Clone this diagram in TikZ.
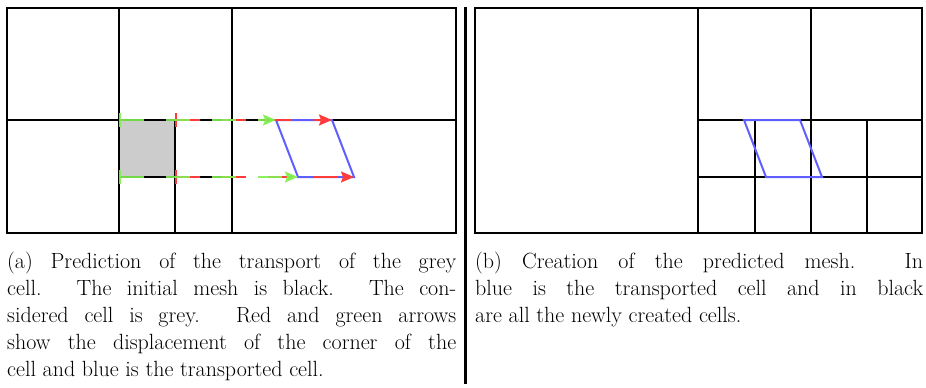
\documentclass[tikz,border=0pt]{standalone}
\usetikzlibrary{arrows.meta}
\definecolor{arrgreen}{RGB}{128,240,80}
\definecolor{arrred}{RGB}{255,60,60}
\definecolor{cellblue}{RGB}{95,95,255}
\definecolor{cellgrey}{RGB}{204,204,204}
\tikzset{
  mesh/.style={line width=2pt, black},
  disp/.style={line width=2pt, dash pattern=on 23.5pt off 22.5pt,
    {Bar[width=14pt,line width=1.5pt]}-{Stealth[length=13pt,width=11pt,inset=2pt]}},
  transported/.style={line width=2pt, cellblue, line join=miter},
  captext/.style={anchor=north west, inner sep=0pt, text width=449pt, align=justify,
    font=\fontsize{22}{27}\selectfont},
}
\begin{document}
\begin{tikzpicture}[x=1pt,y=-1pt]
\useasboundingbox (0,0) rectangle (926,388);
% ---------- left panel ----------
\fill[cellgrey] (119,120) rectangle (175,177);
\draw[mesh] (7,8) rectangle (456,233);
\draw[mesh] (119,8) -- (119,233);
\draw[mesh] (232,8) -- (232,233);
\draw[mesh] (7,120) -- (456,120);
\draw[mesh] (175,120) -- (175,233);
\draw[mesh] (119,177) -- (232,177);
% corners of the grey cell and of the transported cell
\coordinate (a1) at (119,120);
\coordinate (a2) at (175,120);
\coordinate (a3) at (175,177);
\coordinate (a4) at (119,177);
\coordinate (b1) at (276,120);
\coordinate (b2) at (332,120);
\coordinate (b3) at (354,177);
\coordinate (b4) at (298,177);
\draw[transported] (b1) -- (b2) -- (b3) -- (b4) -- cycle;
\draw[disp, arrred] (a2) -- (b2);
\draw[disp, arrred] (a3) -- (b3);
\draw[disp, arrgreen, opacity=0.9] (a1) -- (b1);
\draw[disp, arrgreen, opacity=0.9] (a4) -- (b4);
% ---------- separator ----------
\draw[line width=3pt] (465,7) -- (465,384);
% ---------- right panel ----------
\draw[mesh] (475,8) rectangle (922,233);
\draw[mesh] (698,8) -- (698,233);
\draw[mesh] (811,8) -- (811,233);
\draw[mesh] (698,120) -- (922,120);
\draw[mesh] (698,177) -- (922,177);
\draw[mesh] (755,120) -- (755,233);
\draw[mesh] (867,120) -- (867,233);
\coordinate (c1) at (744,120);
\coordinate (c2) at (800,120);
\coordinate (c3) at (822,177);
\coordinate (c4) at (766,177);
\draw[transported] (c1) -- (c2) -- (c3) -- (c4) -- cycle;
% ---------- captions ----------
\node[captext] (capa) at (7,251.5) {(a) Prediction of the transport of the grey\linebreak
cell. The initial mesh is black. The con-\linebreak
sidered cell is grey. Red and green arrows\linebreak
show the displacement of the corner of the\linebreak
cell and blue is the transported cell.};
\node[captext, text width=448pt] (capb) at (475,251.5) {(b) Creation of the predicted mesh. In\linebreak
blue is the transported cell and in black\linebreak
are all the newly created cells.};
\end{tikzpicture}
\end{document}
